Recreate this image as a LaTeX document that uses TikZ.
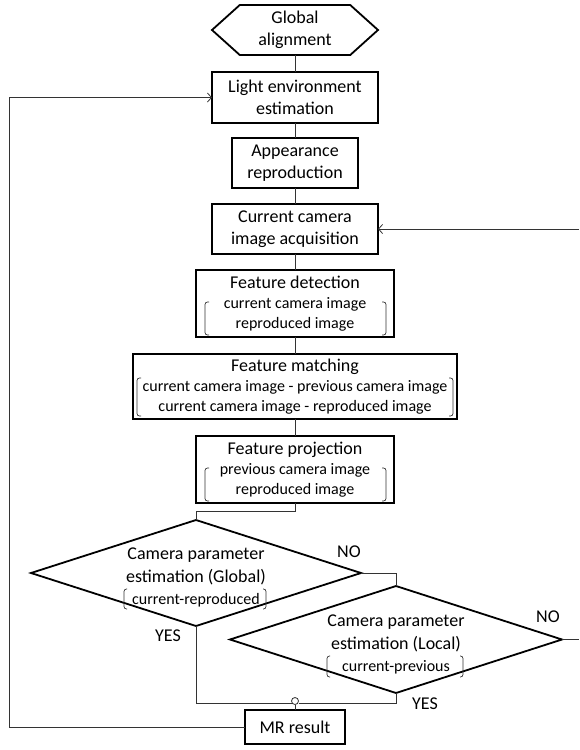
\documentclass[tikz,border=0pt]{standalone}
\usepackage{fontspec}
\setmainfont{Carlito}
\usepackage{tikz}
\usetikzlibrary{shapes.geometric,shapes.symbols,arrows.meta}
\newcommand{\subf}{\fontsize{16}{20}\selectfont}

\begin{document}
\begin{tikzpicture}[x=1pt,y=1pt,font=\fontsize{18}{22}\selectfont]
\tikzstyle{every node}+=[inner sep=0pt, outer sep=0pt]
\tikzstyle{box}=[draw, line width=1.8pt, align=center]
\tikzstyle{hexa}=[signal, signal to=east and west, signal pointer angle=84, draw, line width=1.8pt, align=center]
\tikzstyle{decide}=[diamond, draw, line width=1.8pt]
\tikzstyle{link}=[draw=black!80, line width=0.8pt]
\tikzstyle{arr}=[link, -{Straight Barb[length=4pt,width=9pt]}]
\tikzstyle{brk}=[draw=black!80, line width=0.7pt, rounded corners=2.5pt]
\useasboundingbox (0,0) rectangle (579,-750);
\node [hexa, minimum width=166pt, minimum height=50pt] (start) at (295,-30) {Global\\alignment};
\node [box, minimum width=166pt, minimum height=51pt] (light) at (295,-97.5) {Light environment\\estimation};
\node [box, minimum width=126pt, minimum height=50pt] (appear) at (295,-163) {Appearance\\reproduction};
\node [box, minimum width=166pt, minimum height=50pt] (cur) at (295,-229) {Current camera\\image acquisition};
\node [box, minimum width=198pt, minimum height=67pt] (det) at (295,-303.5) {Feature detection\\[-2pt]{\subf current camera image}\\[-2pt]{\subf reproduced image}};
\node [box, minimum width=324pt, minimum height=65pt] (match) at (295,-386.5) {Feature matching\\[-2pt]{\subf current camera image - previous camera image}\\[-2pt]{\subf current camera image - reproduced image}};
\node [box, minimum width=198pt, minimum height=67pt] (proj) at (295,-469.5) {Feature projection\\[-2pt]{\subf previous camera image}\\[-2pt]{\subf reproduced image}};
\node [decide, minimum width=330pt, minimum height=106pt] (glob) at (196,-573) {};
\node [align=center] (globtxt) at (196,-577) {Camera parameter\\[1pt]estimation (Global)\\{\subf current-reproduced}};
\node [decide, minimum width=332pt, minimum height=107pt] (loc) at (396,-639.5) {};
\node [align=center] (loctxt) at (396,-644) {Camera parameter\\[1pt]estimation (Local)\\{\subf current-previous}};
\node [box, minimum width=100pt, minimum height=34pt] (mr) at (295,-727) {MR result};
\node [circle, draw=black!80, line width=0.8pt, minimum size=7pt, fill=white] (junc) at (295,-701) {};
\node (no1) at (349,-552) {NO};
\node (no2) at (548,-617) {NO};
\node (yes1) at (168,-636) {YES};
\node (yes2) at (425,-704) {YES};
\draw [brk] (209,-302) -- (205,-302) -- (205,-335) -- (209,-335);
\draw [brk] (382,-302) -- (386,-302) -- (386,-335) -- (382,-335);
\draw [brk] (141,-378) -- (137,-378) -- (137,-416) -- (141,-416);
\draw [brk] (449,-378) -- (453,-378) -- (453,-416) -- (449,-416);
\draw [brk] (209,-468) -- (205,-468) -- (205,-501) -- (209,-501);
\draw [brk] (382,-468) -- (386,-468) -- (386,-501) -- (382,-501);
\draw [brk] (127,-589) -- (124,-589) -- (124,-609) -- (127,-609);
\draw [brk] (263,-589) -- (266,-589) -- (266,-609) -- (263,-609);
\draw [brk] (330,-656) -- (327,-656) -- (327,-677) -- (330,-677);
\draw [brk] (460,-656) -- (463,-656) -- (463,-677) -- (460,-677);
\draw [link] (start) -- (light);
\draw [link] (light) -- (appear);
\draw [link] (appear) -- (cur);
\draw [link] (cur) -- (det);
\draw [link] (det) -- (match);
\draw [link] (match) -- (proj);
\draw [link] (proj.south) -- ++(0,-8) -| (glob.north);
\draw [link] (glob.east) -| (loc.north);
\draw [link] (glob.south) |- ([yshift=-2pt]junc.west);
\draw [link] (loc.south) |- ([yshift=-2pt]junc.east);
\draw [link] (junc) -- (mr);
\coordinate (backl) at (9,-727);
\draw [arr] (mr.west) -- (backl) |- (light.west);
\coordinate (backr) at (579,-639.5);
\draw [link] (loc.east) -- (backr);
\coordinate (backin) at (579,-229);
\draw [arr] (backin) -- (cur.east);
\end{tikzpicture}
\end{document}
